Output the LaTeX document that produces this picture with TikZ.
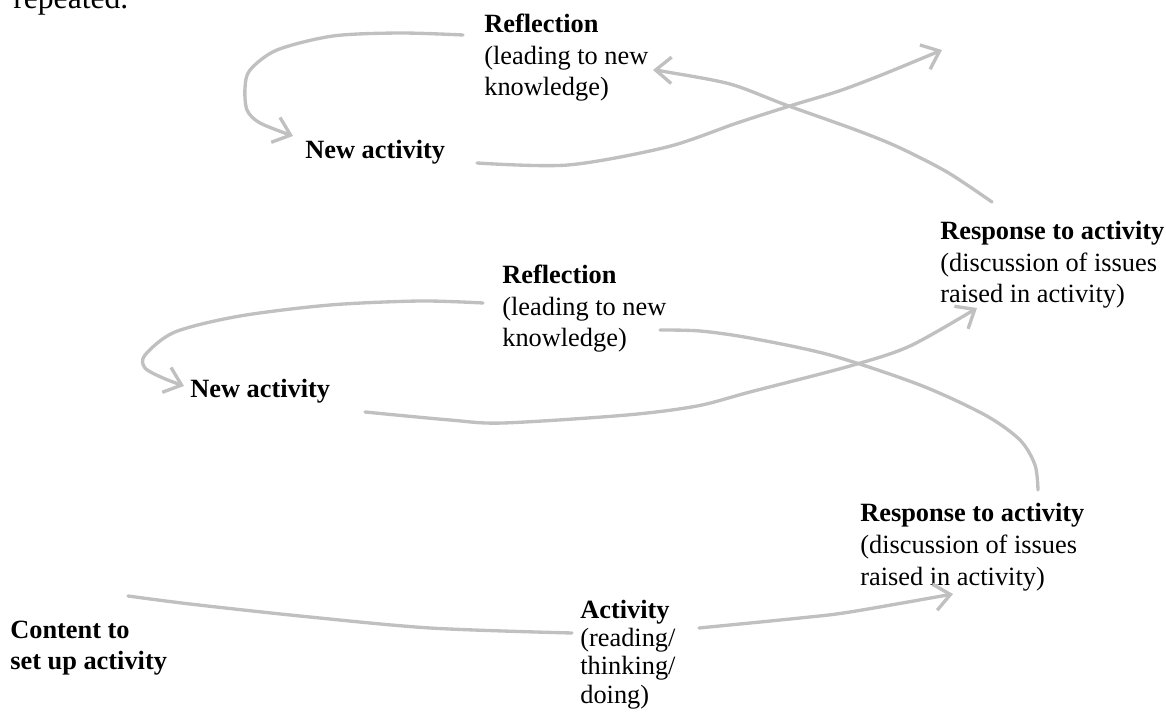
\documentclass[tikz,border=0pt]{standalone}
\usepackage{fontspec}
\setmainfont{Liberation Serif}
\usetikzlibrary{arrows.meta}
\definecolor{pencil}{RGB}{192,192,192}
\tikzset{
  lbl/.style={align=left, inner sep=0pt, anchor=base west, font=\fontsize{15}{18}\selectfont},
  flow/.style={draw=pencil, line width=1.9pt, line cap=round, line join=round},
  flowarr/.style={flow, -{Straight Barb[length=9pt,width=15pt]}}
}
\begin{document}
\begin{tikzpicture}[x=0.02cm,y=-0.02cm]
 \useasboundingbox (0,0) rectangle (1166,719);
 \node [lbl, font=\fontsize{18}{20}\selectfont] (rep) at (13,9) {repeated.};
    \node [lbl] (refltop) at (484,96) {\textbf{Reflection}\\(leading to new\\knowledge)};
    \node [lbl] (newtop) at (305,159) {\textbf{New activity}};
    \node [lbl] (resptop) at (940,303) {\textbf{Response to activity}\\(discussion of issues\\raised in activity)};
    \node [lbl] (reflbot) at (502,347) {\textbf{Reflection}\\(leading to new\\knowledge)};
    \node [lbl] (newbot) at (190,398) {\textbf{New activity}};
    \node [lbl] (respbot) at (860,585) {\textbf{Response to activity}\\(discussion of issues\\raised in activity)};
    \node [lbl, font=\fontsize{15}{17.5}\selectfont\bfseries] (content) at (10,669) {Content to\\set up activity};
    \node [lbl, font=\fontsize{15}{16}\selectfont] (act) at (580,703) {\textbf{Activity}\\(reading/\\thinking/\\doing)};
 \coordinate (c1) at (128,596);
 \coordinate (a1) at (572,633);
 \coordinate (a2) at (699,628);
 \coordinate (r1) at (953,594);
 \coordinate (k1) at (660,330);
 \coordinate (r2) at (1038,490);
 \coordinate (l1) at (483,303);
 \coordinate (n1) at (184,386);
 \coordinate (n2) at (365,412);
 \coordinate (r3) at (977,308);
 \coordinate (l2) at (463,35);
 \coordinate (n3) at (293,136);
 \coordinate (n4) at (477,163);
 \coordinate (up) at (942,50);
 \coordinate (r4) at (992,202);
 \coordinate (k2) at (653,70);
    \draw [flow] plot [smooth] coordinates {(c1) (190,604) (300,616) (430,628) (a1)};
    \draw [flowarr] plot [smooth] coordinates {(a2) (800,618) (850,612) (r1)};
    \draw [flow] plot [smooth] coordinates {(k1) (700,331) (750,338) (830,355) (920,385) (985,415) (1020,440) (1035,465) (r2)};
    \draw [flowarr] plot [smooth] coordinates {(l1) (420,301) (330,305) (240,316) (175,332) (145,355) (145,368) (163,378) (n1)};
    \draw [flowarr] plot [smooth] coordinates {(n2) (450,420) (503,423) (627,415) (697,406) (750,392) (850,366) (910,346) (r3)};
    \draw [flowarr] plot [smooth] coordinates {(l2) (400,33) (333,36) (277,50) (250,70) (245,88) (247,110) (260,123) (n3)};
    \draw [flowarr] plot [smooth] coordinates {(n4) (568,165) (667,147) (737,123) (793,105) (839,91) (884,74) (up)};
    \draw [flowarr] plot [smooth] coordinates {(r4) (947,172) (898,147) (856,130) (786,105) (730,84) (667,72) (k2)};
\end{tikzpicture}
\end{document}
